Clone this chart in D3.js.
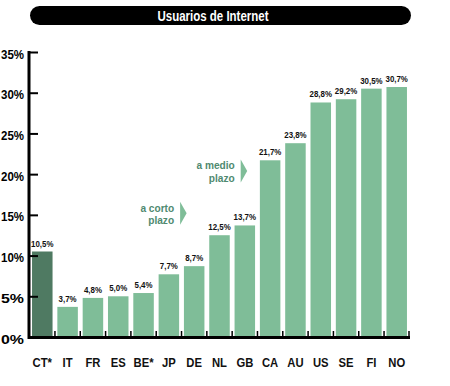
<!DOCTYPE html>
<html><head><meta charset="utf-8">
<script src="https://cdn.jsdelivr.net/npm/d3@7"></script>
<style>
body{margin:0;background:#fff;}
svg{display:block;font-family:"Liberation Sans",Arial,sans-serif;font-weight:bold;}
</style></head>
<body>
<svg id="chart" width="450" height="386"></svg>
<script>
const categories = ["CT*","IT","FR","ES","BE*","JP","DE","NL","GB","CA","AU","US","SE","FI","NO"];
const values = [10.5,3.7,4.8,5.0,5.4,7.7,8.7,12.5,13.7,21.7,23.8,28.8,29.2,30.5,30.7];
const valueLabels = ["10,5%","3,7%","4,8%","5,0%","5,4%","7,7%","8,7%","12,5%","13,7%","21,7%","23,8%","28,8%","29,2%","30,5%","30,7%"];
const yTicks = [0,5,10,15,20,25,30,35];
const title = "Usuarios de Internet";
const annotations = [
  {lines:["a corto","plazo"], before:"DE", level:15.2},
  {lines:["a medio","plazo"], before:"GB", level:20.4}
];

const svg = d3.select("#chart");
const x = d3.scaleBand().domain(categories).range([29, 410]).paddingInner(0.19).paddingOuter(0.12);
const y = d3.scaleLinear().domain([0,35]).range([337, 52]);

// condense helper: narrows glyphs to emulate a condensed face
function condense(sel, f){
  sel.each(function(){
    const w = this.getComputedTextLength();
    d3.select(this).attr("textLength", w*f).attr("lengthAdjust","spacingAndGlyphs");
  });
}

// title bar
svg.append("rect").attr("x",30).attr("y",6).attr("width",381).attr("height",19).attr("rx",9.5).attr("fill","#000");
svg.append("text").attr("x",213).attr("y",21).attr("text-anchor","middle").attr("fill","#fff")
  .attr("font-size",14.5).attr("textLength",111).attr("lengthAdjust","spacingAndGlyphs").text(title);

// bars
svg.selectAll("rect.bar").data(categories).join("rect").attr("class","bar")
  .attr("x",d=>x(d)).attr("width",x.bandwidth())
  .attr("y",(d,i)=>y(values[i])).attr("height",(d,i)=>y(0)-y(values[i]))
  .attr("fill",(d,i)=>i===0?"#4f7a62":"#7fbd98");

// value labels
svg.selectAll("text.val").data(categories).join("text").attr("class","val")
  .attr("x",d=>x(d)+x.bandwidth()/2).attr("y",(d,i)=>y(values[i])-5)
  .attr("text-anchor","middle").attr("font-size",8.5).attr("fill","#111")
  .text((d,i)=>valueLabels[i]).call(condense,0.93);

// y axis
const yAxis = d3.axisRight(y).tickValues(yTicks).tickSize(9).tickFormat("");
const gy = svg.append("g").attr("transform","translate(29,0)").call(yAxis);
gy.select(".domain").remove();
gy.selectAll(".tick line").attr("stroke","#000").attr("stroke-width",2);
svg.append("line").attr("x1",29).attr("x2",29).attr("y1",y(35)-1).attr("y2",y(0)+2).attr("stroke","#000").attr("stroke-width",3);
svg.selectAll("text.ylab").data(yTicks).join("text").attr("class","ylab")
  .attr("x",24).attr("y",d=>y(d)+6.5).attr("text-anchor","end").attr("font-size",13).attr("fill","#000")
  .attr("textLength",23).attr("lengthAdjust","spacingAndGlyphs")
  .text(d=>d+"%");

// x axis baseline and ticks between bars
svg.append("line").attr("x1",29).attr("x2",410).attr("y1",y(0)+0.5).attr("y2",y(0)+0.5).attr("stroke","#000").attr("stroke-width",3);
const gap = x.step()-x.bandwidth();
svg.selectAll("line.xt").data(categories.slice(1)).join("line").attr("class","xt")
  .attr("x1",d=>x(d)-gap/2).attr("x2",d=>x(d)-gap/2).attr("y1",y(0)).attr("y2",y(0)-6)
  .attr("stroke","#000").attr("stroke-width",1.5);
svg.append("line").attr("x1",409).attr("x2",409).attr("y1",y(0)).attr("y2",y(0)-6).attr("stroke","#000").attr("stroke-width",1.5);

// category labels
svg.selectAll("text.cat").data(categories).join("text").attr("class","cat")
  .attr("x",d=>x(d)+x.bandwidth()/2).attr("y",367).attr("text-anchor","middle")
  .attr("font-size",12.5).attr("fill","#111").text(d=>d).call(condense,0.9);

// annotations
annotations.forEach((a,k)=>{
  const ax = k===0 ? x(a.before)-gap+1 : x(a.before)+x.bandwidth()*0.3;
  const cy = y(a.level);
  const g = svg.append("g");
  g.append("path").attr("d",`M${ax},${cy-11.5}L${ax+6.5},${cy}L${ax},${cy+11.5}Z`).attr("fill","#7fbd98");
  a.lines.forEach((t,i)=>{
    g.append("text").attr("x",ax-6).attr("y",cy-1.5+i*12.5).attr("text-anchor","end")
      .attr("font-size",11.5).attr("fill","#4f8a70").text(t).call(condense,0.88);
  });
});
</script>
</body></html>
